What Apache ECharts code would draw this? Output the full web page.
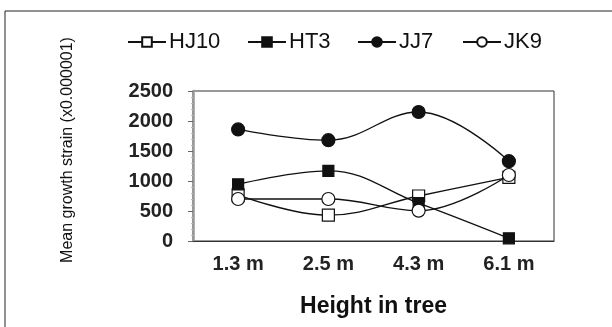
<!DOCTYPE html>
<html><head><meta charset="utf-8">
<script src="https://cdn.jsdelivr.net/npm/echarts@6/dist/echarts.min.js"></script>
<style>html,body{margin:0;padding:0;background:#fff}#c{width:612px;height:327px}</style>
</head><body><div id="c"></div>
<script>
const categories = ['1.3 m', '2.5 m', '4.3 m', '6.1 m'];
const seriesNames = ['HJ10', 'HT3', 'JJ7', 'JK9'];
const HJ10 = [770, 430, 750, 1060];
const HT3 = [945, 1170, 630, 45];
const JJ7 = [1860, 1680, 2150, 1330];
const JK9 = [700, 700, 505, 1100];
const yTicks = [0, 500, 1000, 1500, 2000, 2500];
const yTitle = 'Mean growth strain (x0.000001)';
const xTitle = 'Height in tree';

const chart = echarts.init(document.getElementById('c'));
const font = 'Arial, Liberation Sans, sans-serif';
function s(name, data, symbol, filled, size) {
  return {
    name, type: 'line', data, smooth: 0.4, symbol, symbolSize: size,
    lineStyle: {color: '#111', width: 1.3},
    itemStyle: {color: filled ? '#111' : '#fff', borderColor: '#111', borderWidth: 1.2},
    emphasis: {disabled: true}
  };
}
const legendLeft = [127, 247, 357, 462];
chart.setOption({
  animation: false,
  backgroundColor: '#fff',
  graphic: [
    {type: 'rect', shape: {x: 5, y: 11, width: 620, height: 330}, style: {fill: 'none', stroke: '#222', lineWidth: 1}},
    {type: 'text', x: 68, y: 150, rotation: Math.PI / 2,
     style: {text: yTitle, font: '16px Arial, Liberation Sans, sans-serif', fill: '#111', align: 'center', verticalAlign: 'middle'}}
  ],
  legend: seriesNames.map((n, i) => ({
    top: 31, left: legendLeft[i], itemWidth: 38, itemHeight: 12, padding: 0,
    textStyle: {fontFamily: font, fontSize: 22, color: '#111', padding: [0, 0, 0, -2]},
    data: [n]
  })),
  grid: {left: 193, right: 58, top: 91, bottom: 86, show: true, borderColor: '#333', borderWidth: 1},
  xAxis: {
    type: 'category', data: categories, boundaryGap: true,
    axisLine: {lineStyle: {color: '#333', width: 1.2}},
    axisTick: {show: false},
    axisLabel: {fontFamily: font, fontSize: 20, fontWeight: 'bold', color: '#222', margin: 13},
    name: xTitle, nameLocation: 'middle', nameGap: 54,
    nameTextStyle: {fontFamily: font, fontSize: 23, fontWeight: 'bold', color: '#111'}
  },
  yAxis: {
    type: 'value', min: yTicks[0], max: yTicks[yTicks.length - 1], interval: 500,
    axisLine: {show: true, lineStyle: {color: '#999', width: 2.5}},
    axisTick: {show: true, inside: false, length: 5, lineStyle: {color: '#666'}},
    minorTick: {show: true, splitNumber: 5, length: 2, lineStyle: {color: '#bbb'}},
    splitLine: {show: false},
    axisLabel: {fontFamily: font, fontSize: 20, fontWeight: 'bold', color: '#222', margin: 20,
      formatter: v => String(v)}
  },
  series: [
    s('HJ10', HJ10, 'rect', false, 12),
    s('HT3', HT3, 'rect', true, 11),
    s('JJ7', JJ7, 'circle', true, 13),
    s('JK9', JK9, 'circle', false, 13)
  ]
});
</script></body></html>
